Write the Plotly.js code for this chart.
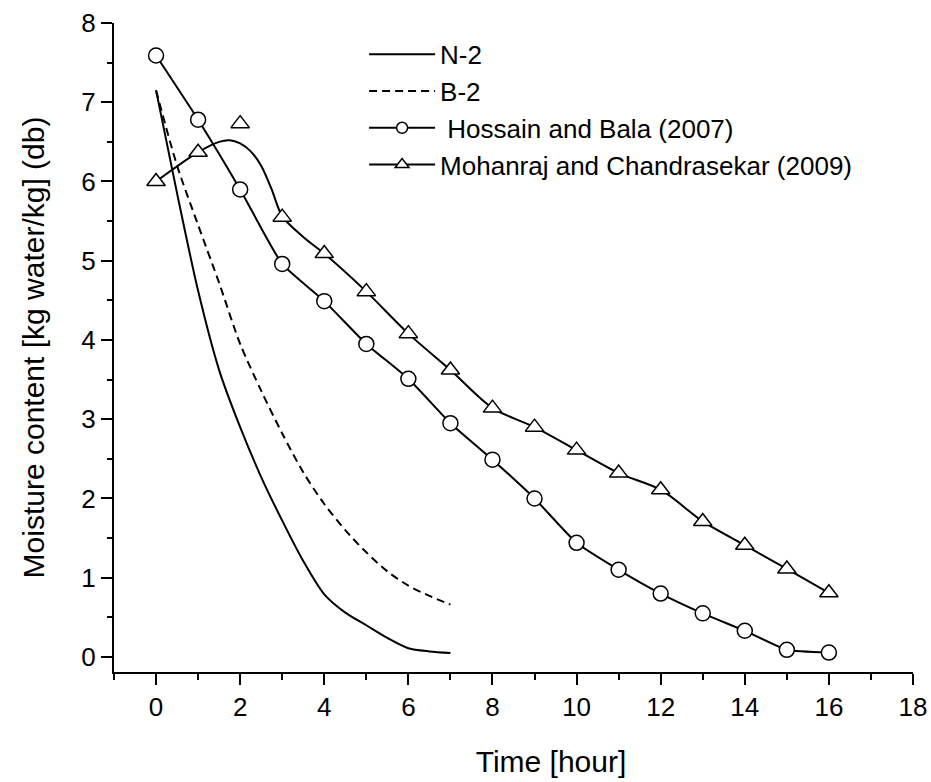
<!DOCTYPE html>
<html>
<head>
<meta charset="utf-8">
<script src="https://cdn.plot.ly/plotly-3.0.1.min.js"></script>
<style>
  html, body { margin: 0; padding: 0; background: #fff; }
  #chart { width: 931px; height: 782px; }
</style>
</head>
<body>
<div id="chart"></div>
<script>
// ---- Data ----
// Simulated curves
const n2Time = [0, 0.5, 1.0, 1.5, 2.0, 2.5, 3.0, 3.5, 4.0, 4.5, 5.0, 5.5, 6.0, 6.5, 7.0];
const n2Moisture = [7.15, 5.85, 4.62, 3.62, 2.90, 2.27, 1.72, 1.21, 0.79, 0.56, 0.40, 0.24, 0.11, 0.07, 0.05];

const b2Time = [0, 0.5, 1.0, 1.5, 2.0, 2.5, 3.0, 3.5, 4.0, 4.5, 5.0, 5.5, 6.0, 6.5, 7.0];
const b2Moisture = [7.15, 6.2, 5.45, 4.72, 3.95, 3.36, 2.82, 2.33, 1.93, 1.60, 1.32, 1.08, 0.90, 0.77, 0.66];

// Experimental points (hourly)
const hours = [0, 1, 2, 3, 4, 5, 6, 7, 8, 9, 10, 11, 12, 13, 14, 15, 16];
const hossainBala = [7.59, 6.78, 5.90, 4.96, 4.49, 3.95, 3.51, 2.95, 2.49, 2.00, 1.44, 1.10, 0.80, 0.55, 0.33, 0.09, 0.055];
const mohanraj = [6.0, 6.37, 6.73, 5.55, 5.09, 4.61, 4.08, 3.62, 3.14, 2.90, 2.61, 2.32, 2.11, 1.71, 1.41, 1.11, 0.81];

// Smoothed curve drawn through the Mohanraj and Chandrasekar points
const mohanrajCurveTime = [0, 1, 1.5, 1.75, 2.0, 2.25, 2.5, 2.75, 3, 3.5, 4, 5, 6, 7, 8, 9, 10, 11, 12, 13, 14, 15, 16];
const mohanrajCurveMoisture = [6.0, 6.37, 6.50, 6.52, 6.48, 6.38, 6.20, 5.90, 5.56, 5.30, 5.09, 4.61, 4.08, 3.62, 3.14, 2.90, 2.61, 2.32, 2.11, 1.71, 1.41, 1.11, 0.81];

// Axis ticks
const xTicks = [0, 2, 4, 6, 8, 10, 12, 14, 16, 18];
const yTicks = [0, 1, 2, 3, 4, 5, 6, 7, 8];

// Series names
const names = {
  n2: 'N-2',
  b2: 'B-2',
  hossain: '\u00A0Hossain and Bala (2007)',
  mohanraj: 'Mohanraj and Chandrasekar (2009)'
};

// ---- Build traces ----
const black = '#000000';
const white = '#ffffff';
const circleStyle = { symbol: 'circle', size: 15, color: white, opacity: 1, line: { color: black, width: 1.5 } };
const triStyle = { symbol: 'triangle-up', size: 16, color: white, opacity: 1, line: { color: black, width: 1.5 } };
// legend symbols are nudged to the middle of the longer legend line sample
const legendSymbolShift = -19;

const traces = [
  {
    x: n2Time, y: n2Moisture, name: names.n2, type: 'scatter', mode: 'lines',
    legendgroup: 'n2',
    line: { color: black, width: 2, shape: 'spline', smoothing: 0.8 }
  },
  {
    x: b2Time, y: b2Moisture, name: names.b2, type: 'scatter', mode: 'lines',
    legendgroup: 'b2',
    line: { color: black, width: 2, dash: '8px,5px', shape: 'spline', smoothing: 0.8 }
  },
  {
    x: hours, y: hossainBala, name: names.hossain, type: 'scatter', mode: 'lines+markers',
    legendgroup: 'hb', showlegend: false,
    line: { color: black, width: 2, shape: 'spline', smoothing: 0.5 },
    marker: circleStyle
  },
  {
    x: mohanrajCurveTime, y: mohanrajCurveMoisture, name: names.mohanraj, type: 'scatter', mode: 'lines',
    legendgroup: 'moh', showlegend: false,
    line: { color: black, width: 2, shape: 'spline', smoothing: 0.8 }
  },
  {
    x: hours, y: mohanraj, name: names.mohanraj, type: 'scatter', mode: 'markers',
    legendgroup: 'moh', showlegend: false,
    marker: triStyle
  },
  // legend entries for the measured series (line + symbol sample)
  {
    x: [null], y: [null], name: names.hossain, type: 'scatter', mode: 'lines+markers',
    legendgroup: 'hb',
    line: { color: black, width: 2 },
    marker: { symbol: 'circle', size: 11, color: white, angle: -90, standoff: legendSymbolShift, line: { color: black, width: 1.5 } }
  },
  {
    x: [null], y: [null], name: names.mohanraj, type: 'scatter', mode: 'lines+markers',
    legendgroup: 'moh',
    line: { color: black, width: 2 },
    marker: { symbol: 'triangle-right', size: 12, color: white, angle: -90, standoff: legendSymbolShift, line: { color: black, width: 1.5 } }
  }
];

const fontFamily = '"Liberation Sans", Arial, sans-serif';
const nb = '\u00A0';

const layout = {
  width: 931,
  height: 782,
  paper_bgcolor: white,
  plot_bgcolor: white,
  font: { family: fontFamily, color: black, size: 26 },
  margin: { l: 114, r: 18, t: 23, b: 110, pad: 0 },
  showlegend: true,
  legend: {
    x: 0.313, xanchor: 'left',
    y: 0.988, yanchor: 'top',
    bgcolor: 'rgba(0,0,0,0)',
    borderwidth: 0,
    font: { family: fontFamily, size: 26, color: black },
    itemwidth: 66,
    tracegroupgap: 0,
    traceorder: 'normal'
  },
  xaxis: {
    range: [-1, 18],
    tickmode: 'array',
    tickvals: xTicks,
    ticktext: xTicks.map(String),
    showgrid: false, zeroline: false,
    showline: true, linecolor: black, linewidth: 2,
    ticks: 'outside', ticklen: 11, tickwidth: 2, tickcolor: black,
    tickfont: { family: fontFamily, size: 26, color: black },
    minor: { tickmode: 'linear', tick0: 1, dtick: 2, ticks: 'outside', ticklen: 6, tickwidth: 2, tickcolor: black, showgrid: false },
    title: { text: '\u200B' + nb.repeat(9) + 'Time [hour]', font: { family: fontFamily, size: 30, color: black }, standoff: 30 },
    automargin: false
  },
  yaxis: {
    range: [-0.19, 8],
    tickmode: 'array',
    tickvals: yTicks,
    ticktext: yTicks.map(String),
    showgrid: false, zeroline: false,
    showline: true, linecolor: black, linewidth: 2,
    ticks: 'outside', ticklen: 11, tickwidth: 2, tickcolor: black,
    tickfont: { family: fontFamily, size: 26, color: black },
    minor: { tickmode: 'linear', tick0: 0.5, dtick: 1, ticks: 'outside', ticklen: 5, tickwidth: 2, tickcolor: black, showgrid: false },
    title: { text: 'Moisture content [kg water/kg] (db)', font: { family: fontFamily, size: 30, color: black }, standoff: 28 },
    automargin: false
  }
};

Plotly.newPlot('chart', traces, layout, { staticPlot: true, displayModeBar: false });
</script>
</body>
</html>
